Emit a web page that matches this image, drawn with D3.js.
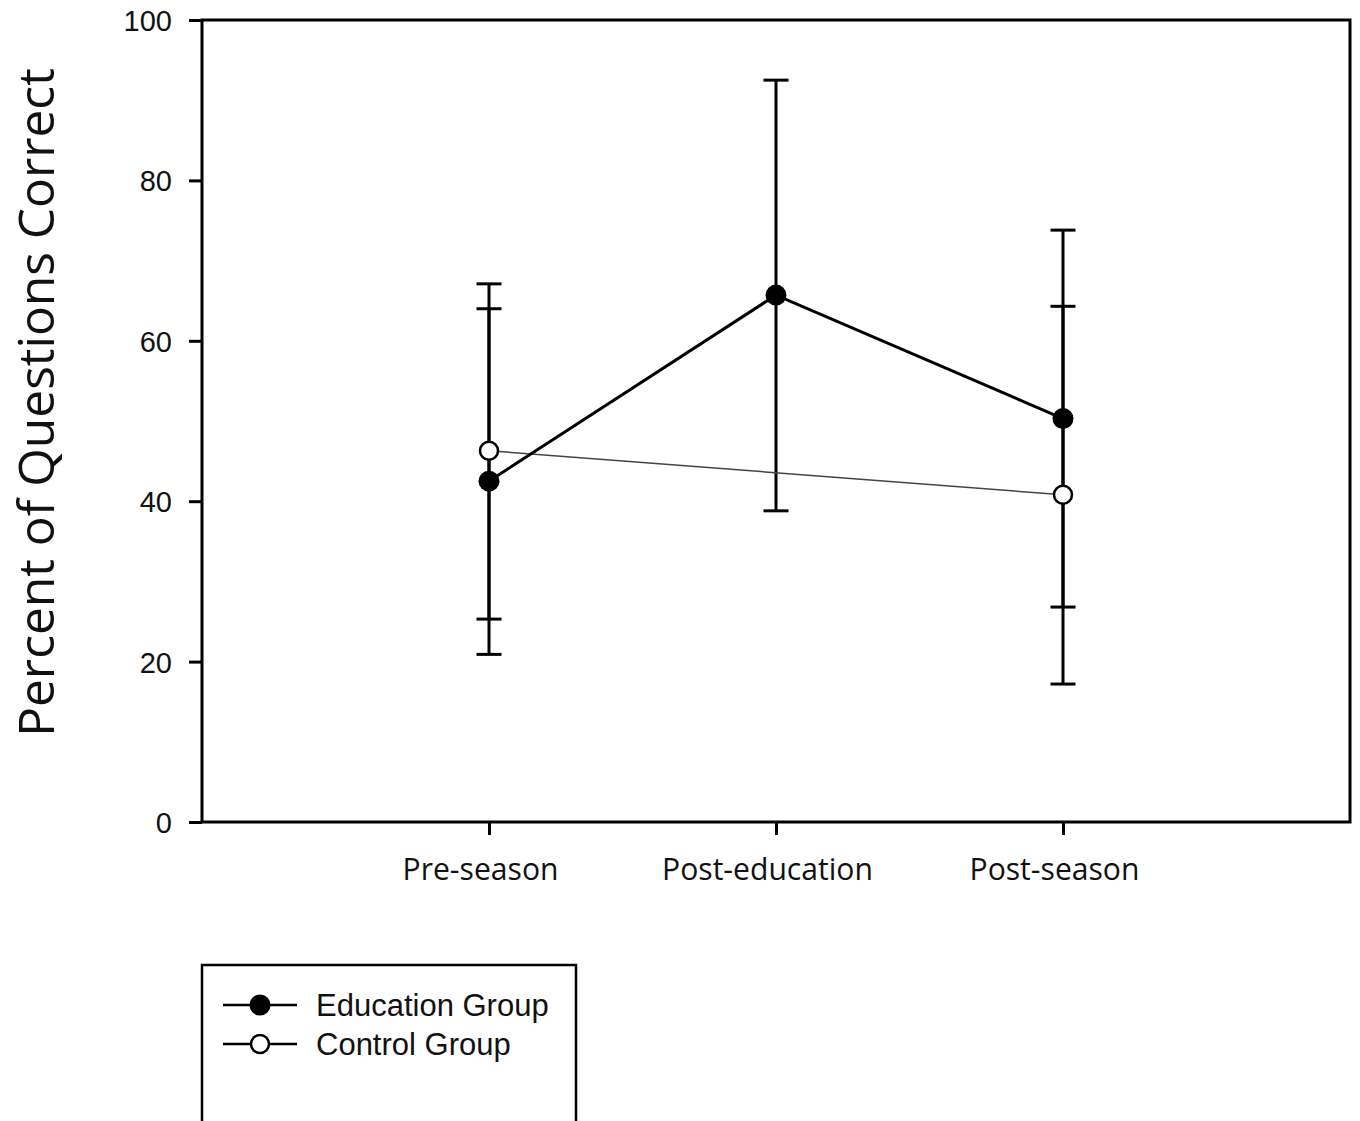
<!DOCTYPE html>
<html><head><meta charset="utf-8">
<script src="https://cdn.jsdelivr.net/npm/d3@7"></script>
<style>html,body{margin:0;padding:0;background:#fff;}svg{display:block;}</style>
</head><body>
<svg id="chart" width="1360" height="1121"></svg>
<script>
const categories = ["Pre-season", "Post-education", "Post-season"];
const eduMean = [42.5, 65.7, 50.3];
const eduLow  = [20.9, 38.8, 26.8];
const eduHigh = [64.0, 92.5, 73.8];
const ctrlMean = [46.3, null, 40.8];
const ctrlLow  = [25.3, null, 17.2];
const ctrlHigh = [67.1, null, 64.3];
const yTicks = [0, 20, 40, 60, 80, 100];
const seriesNames = ["Education Group", "Control Group"];
const yTitle = "Percent of Questions Correct";

const svg = d3.select("#chart");
const L = 202, R = 1350, T = 20, B = 822;
const x = d3.scalePoint().domain(categories).range([L, R]).padding(1);
const y = d3.scaleLinear().domain([0, 100]).range([B, T]);

function fit(sel, target) {
  const base = 40;
  sel.style("font-size", base + "px");
  const len = sel.node().getComputedTextLength();
  const f = base * target / len;
  sel.style("font-size", f + "px");
  return f;
}

// frame
svg.append("rect").attr("x", L).attr("y", T).attr("width", R - L).attr("height", B - T)
  .attr("fill", "none").attr("stroke", "#000").attr("stroke-width", 3);

// y axis
const yAxis = svg.append("g").attr("transform", `translate(${L},0)`)
  .call(d3.axisLeft(y).tickValues(yTicks).tickSize(13).tickSizeOuter(0).tickPadding(17).tickFormat(d3.format("d")));
yAxis.select(".domain").remove();
yAxis.selectAll(".tick line").attr("stroke", "#000").attr("stroke-width", 3);
yAxis.selectAll(".tick text").attr("font-family", "'Liberation Sans', Arial, sans-serif")
  .attr("font-size", 29).attr("fill", "#111").attr("dy", "0.36em");

// x axis
const xAxis = svg.append("g").attr("transform", `translate(0,${B})`)
  .call(d3.axisBottom(x).tickSize(13).tickSizeOuter(0).tickFormat(() => ""));
xAxis.select(".domain").remove();
xAxis.selectAll(".tick line").attr("stroke", "#000").attr("stroke-width", 3);

const catLabels = svg.append("g").selectAll("text").data(categories).join("text")
  .attr("x", d => x(d) - 8.5).attr("y", 880).attr("text-anchor", "middle")
  .attr("font-family", "'Open Sans', 'Noto Sans', sans-serif").attr("fill", "#111")
  .text(d => d);
const fs = fit(catLabels.filter((d, i) => i === 1), 211);
catLabels.style("font-size", fs + "px");

// y title
const yt = svg.append("text").attr("font-family", "'Open Sans', 'Noto Sans', sans-serif")
  .attr("fill", "#111").attr("text-anchor", "middle").text(yTitle);
const tf = fit(yt, 669);
let xb = 15 + 0.714 * tf;
yt.attr("transform", `translate(${xb},402.5) rotate(-90)`);
const bb = yt.node().getBoundingClientRect();
if (bb.left < 1) {
  xb += 1 - bb.left;
  yt.attr("transform", `translate(${xb},402.5) rotate(-90)`);
}

// error bars
function errBars(mean, lo, hi) {
  const g = svg.append("g");
  categories.forEach((c, i) => {
    if (mean[i] == null) return;
    const cx = x(c);
    g.append("line").attr("x1", cx).attr("x2", cx).attr("y1", y(lo[i])).attr("y2", y(hi[i]))
      .attr("stroke", "#000").attr("stroke-width", 3);
    [lo[i], hi[i]].forEach(v => {
      g.append("line").attr("x1", cx - 12.5).attr("x2", cx + 12.5).attr("y1", y(v)).attr("y2", y(v))
        .attr("stroke", "#000").attr("stroke-width", 3);
    });
  });
}
errBars(eduMean, eduLow, eduHigh);
errBars(ctrlMean, ctrlLow, ctrlHigh);

// lines
const line = d3.line().defined(d => d.v != null).x(d => x(d.c)).y(d => y(d.v));
const eduData = categories.map((c, i) => ({c, v: eduMean[i]}));
const ctrlData = categories.map((c, i) => ({c, v: ctrlMean[i]})).filter(d => d.v != null);
svg.append("path").datum(ctrlData).attr("d", line).attr("fill", "none")
  .attr("stroke", "#444").attr("stroke-width", 1.5);
svg.append("path").datum(eduData).attr("d", line).attr("fill", "none")
  .attr("stroke", "#000").attr("stroke-width", 3);

// markers
svg.append("g").selectAll("circle").data(ctrlData).join("circle")
  .attr("cx", d => x(d.c)).attr("cy", d => y(d.v)).attr("r", 9)
  .attr("fill", "#fff").attr("stroke", "#000").attr("stroke-width", 2.5);
svg.append("g").selectAll("circle").data(eduData).join("circle")
  .attr("cx", d => x(d.c)).attr("cy", d => y(d.v)).attr("r", 10.5)
  .attr("fill", "#000");

// legend
svg.append("rect").attr("x", 202).attr("y", 965).attr("width", 374).attr("height", 180)
  .attr("fill", "#fff").attr("stroke", "#000").attr("stroke-width", 2.5);
const legY = [1005, 1044];
seriesNames.forEach((name, i) => {
  const yy = legY[i];
  svg.append("line").attr("x1", 223).attr("x2", 297).attr("y1", yy).attr("y2", yy)
    .attr("stroke", "#000").attr("stroke-width", 2.5);
  if (i === 0) {
    svg.append("circle").attr("cx", 260).attr("cy", yy).attr("r", 10.5).attr("fill", "#000");
  } else {
    svg.append("circle").attr("cx", 260).attr("cy", yy).attr("r", 9).attr("fill", "#fff")
      .attr("stroke", "#000").attr("stroke-width", 2.5);
  }
  svg.append("text").attr("x", 316).attr("y", yy + 11)
    .attr("font-family", "'Liberation Sans', Arial, sans-serif").attr("font-size", 31)
    .attr("fill", "#111").text(name);
});
</script>
</body></html>
